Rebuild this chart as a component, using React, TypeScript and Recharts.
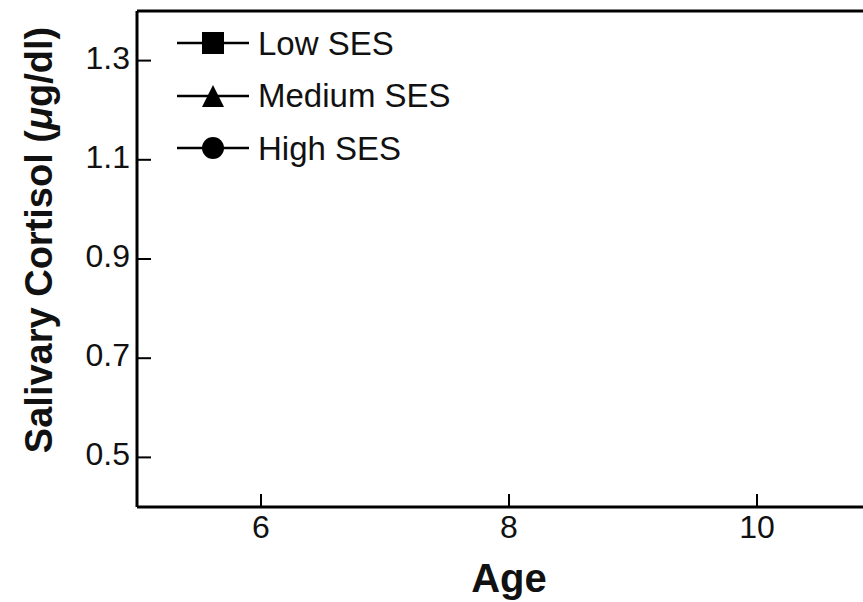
import React from "react";
import { LineChart, Line, XAxis, YAxis, Legend, ReferenceLine } from "recharts";

// nothing is plotted inside the frame in the reference, only the legend
const ages = [6, 8, 10];
const lowSes: (number | null)[] = [null, null, null];
const mediumSes: (number | null)[] = [null, null, null];
const highSes: (number | null)[] = [null, null, null];
const seriesNames = ["Low SES", "Medium SES", "High SES"];
const xTicks = [6, 8, 10];
const yTicks = [0.5, 0.7, 0.9, 1.1, 1.3];
const xDomain = [5, 11];
const yDomain = [0.4, 1.4];

const data = ages.map((age, i) => ({
  age,
  low: lowSes[i],
  medium: mediumSes[i],
  high: highSes[i],
}));

const FONT = "'Liberation Sans', Arial, Helvetica, sans-serif";

const YTick = ({ x, y, payload }: any) => (
  <g>
    <line x1={x} x2={x + 14} y1={y} y2={y} stroke="#000" strokeWidth={2} />
    <text x={x - 7} y={y + 8} textAnchor="end" fontSize={32} fill="#111" fontFamily={FONT}>
      {Number(payload.value).toFixed(1)}
    </text>
  </g>
);

const XTick = ({ x, y, payload }: any) => (
  <g>
    <line x1={x} x2={x} y1={y} y2={y - 13} stroke="#000" strokeWidth={2} />
    <text x={x} y={y + 31} textAnchor="middle" fontSize={32} fill="#111" fontFamily={FONT}>
      {payload.value}
    </text>
  </g>
);

function Marker({ type }: { type: string }) {
  if (type === "square") return <rect x={25} y={4} width={22} height={22} fill="#000" />;
  if (type === "triangle") return <polygon points="36,4 47,26 25,26" fill="#000" />;
  return <circle cx={36} cy={15} r={11} fill="#000" />;
}

const LegendContent = ({ payload }: any) => {
  const items = [...(payload || [])].sort(
    (a: any, b: any) => seriesNames.indexOf(a.value) - seriesNames.indexOf(b.value)
  );
  return (
    <div style={{ fontFamily: FONT }}>
      {items.map((entry: any) => (
        <div key={entry.value} style={{ display: "flex", alignItems: "center", height: 52.5 }}>
          <svg width={72} height={30} style={{ display: "block" }}>
            <line x1={0} x2={72} y1={15} y2={15} stroke="#000" strokeWidth={2.5} />
            <Marker type={entry.type} />
          </svg>
          <span style={{ marginLeft: 9, fontSize: 33, lineHeight: 1, color: "#111", whiteSpace: "nowrap" }}>
            {entry.value}
          </span>
        </div>
      ))}
    </div>
  );
};

export default function App() {
  return (
    <div
      style={{
        position: "fixed",
        left: 0,
        top: 0,
        width: 863,
        height: 602,
        overflow: "hidden",
        background: "#fff",
      }}
    >
      <LineChart
        width={891}
        height={602}
        data={data}
        margin={{ top: 11, right: 10, left: 0, bottom: 0 }}
        style={{ fontFamily: FONT }}
      >
        <XAxis
          dataKey="age"
          type="number"
          domain={xDomain}
          ticks={xTicks}
          allowDataOverflow
          height={95}
          tickSize={0}
          tickMargin={0}
          tickLine={false}
          tick={<XTick />}
          axisLine={{ stroke: "#000", strokeWidth: 3 }}
          label={{
            content: ({ viewBox }: any) => (
              <text
                x={viewBox.x + viewBox.width / 2}
                y={viewBox.y + viewBox.height - 10}
                textAnchor="middle"
                fontSize={40}
                fontWeight="bold"
                fill="#111"
                fontFamily={FONT}
              >
                Age
              </text>
            ),
          }}
        />
        <YAxis
          type="number"
          domain={yDomain}
          ticks={yTicks}
          allowDataOverflow
          width={137}
          tickSize={0}
          tickMargin={0}
          tickLine={false}
          tick={<YTick />}
          axisLine={{ stroke: "#000", strokeWidth: 3 }}
          label={{
            content: () => (
              <text
                x={52}
                y={240}
                transform="rotate(-90, 52, 240)"
                textAnchor="middle"
                fontSize={38}
                fontWeight="bold"
                fill="#111"
                fontFamily={FONT}
              >
                Salivary Cortisol (<tspan fontStyle="italic">μ</tspan>g/dl)
              </text>
            ),
          }}
        />
        <ReferenceLine y={yDomain[1]} stroke="#000" strokeWidth={3} />
        <ReferenceLine x={xDomain[1]} stroke="#000" strokeWidth={3} />
        <Legend
          layout="vertical"
          align="center"
          verticalAlign="middle"
          wrapperStyle={{ left: 177, top: 17, width: 320 }}
          content={<LegendContent />}
        />
        <Line dataKey="low" name={seriesNames[0]} legendType="square" stroke="#000" strokeWidth={2.5} dot={false} isAnimationActive={false} />
        <Line dataKey="medium" name={seriesNames[1]} legendType="triangle" stroke="#000" strokeWidth={2.5} dot={false} isAnimationActive={false} />
        <Line dataKey="high" name={seriesNames[2]} legendType="circle" stroke="#000" strokeWidth={2.5} dot={false} isAnimationActive={false} />
      </LineChart>
    </div>
  );
}
